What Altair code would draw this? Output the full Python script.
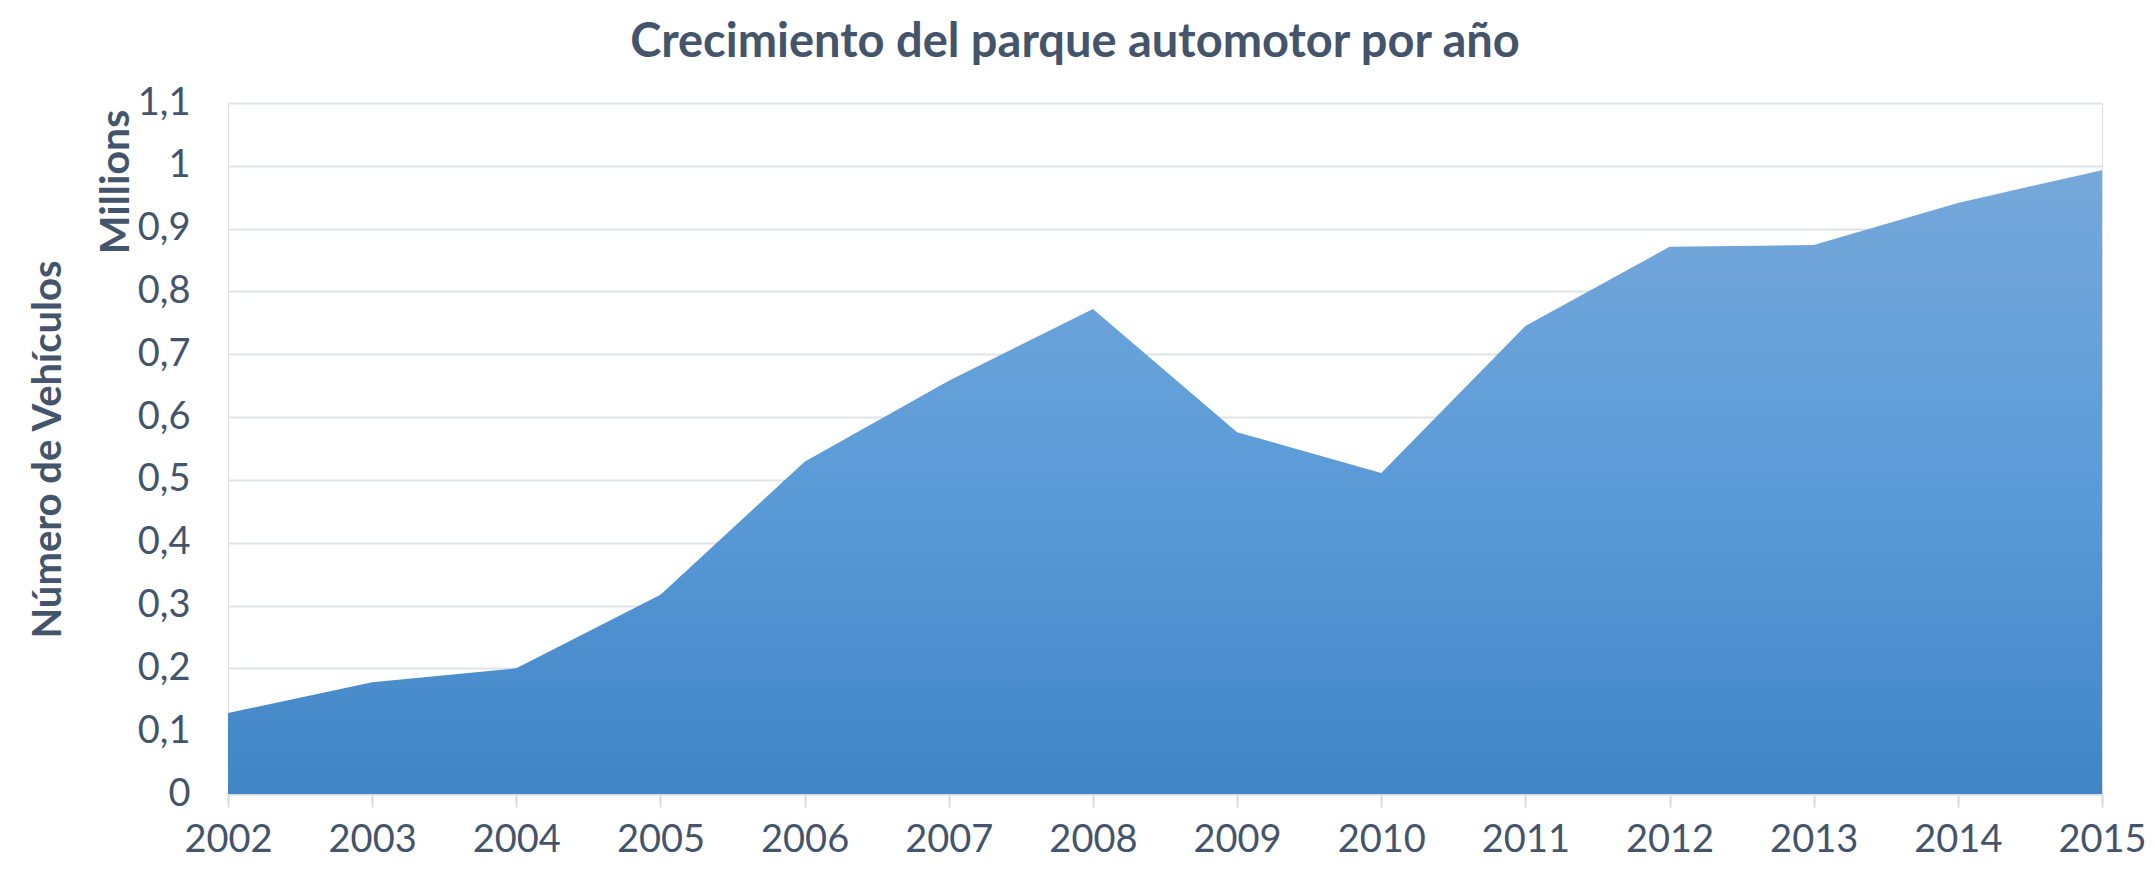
import altair as alt
import pandas as pd

years = [2002, 2003, 2004, 2005, 2006, 2007, 2008, 2009, 2010, 2011, 2012, 2013, 2014, 2015]
vehicles_millions = [0.129, 0.178, 0.200, 0.317, 0.529, 0.658, 0.772, 0.576, 0.511, 0.745, 0.871, 0.874, 0.941, 0.993]
y_ticks = [0, 0.1, 0.2, 0.3, 0.4, 0.5, 0.6, 0.7, 0.8, 0.9, 1.0, 1.1]

title_text = "Crecimiento del parque automotor por año"
y_title = "Número de Vehículos"
unit_label = "Millions"

df = pd.DataFrame({"year": years, "value": vehicles_millions})

FONT = "Lato"
TXT = "#44546a"

area = alt.Chart(df).mark_area(
    color=alt.Gradient(
        gradient="linear",
        stops=[
            alt.GradientStop(color="#4185c6", offset=0),
            alt.GradientStop(color="#5b9bd8", offset=0.5),
            alt.GradientStop(color="#76a8da", offset=1),
        ],
        x1=1, x2=1, y1=1, y2=0,
    ),
    opacity=1,
).encode(
    x=alt.X(
        "year:Q",
        scale=alt.Scale(domain=[2002, 2015], nice=False, zero=False),
        axis=alt.Axis(
            values=years,
            format="d",
            title=None,
            grid=False,
            domain=True,
            domainColor="#d9d9d9",
            domainWidth=2,
            ticks=True,
            tickColor="#d9d9d9",
            tickWidth=2,
            tickSize=13,
            labelPadding=14,
            labelFont=FONT,
            labelFontSize=38,
            labelColor=TXT,
            labelFlush=False,
        ),
    ),
    y=alt.Y(
        "value:Q",
        scale=alt.Scale(domain=[0, 1.1], nice=False),
        axis=alt.Axis(
            values=y_ticks,
            labelExpr="replace(format(datum.value, '~g'), '.', ',')",
            title=y_title,
            titleFont=FONT,
            titleFontSize=40,
            titleFontWeight="bold",
            titleColor=TXT,
            titleAngle=270,
            titleAlign="center",
            titleBaseline="middle",
            titleX=-180,
            titleY=346,
            grid=True,
            gridColor="#dfe3e8",
            gridWidth=2,
            domain=False,
            ticks=False,
            labelPadding=38,
            labelFont=FONT,
            labelFontSize=38,
            labelColor=TXT,
        ),
    ),
)

unit = alt.Chart(pd.DataFrame({"t": [unit_label]})).mark_text(
    angle=270,
    align="center",
    baseline="middle",
    font=FONT,
    fontSize=41,
    fontWeight="bold",
    color=TXT,
).encode(
    text="t:N",
    x=alt.value(-111),
    y=alt.value(79),
)

title = alt.Chart(pd.DataFrame({"t": [title_text]})).mark_text(
    align="center",
    baseline="alphabetic",
    font=FONT,
    fontSize=47,
    fontWeight="bold",
    color=TXT,
).encode(
    text="t:N",
    x=alt.value(847),
    y=alt.value(-46),
)

chart = alt.layer(area, unit, title).properties(
    width=1874,
    height=691,
    autosize=alt.AutoSizeParams(type="none"),
    padding={"left": 220, "top": 95, "right": 45, "bottom": 70},
).configure_view(stroke=None).configure(background="white")

chart.save("out.html", embed_options={"renderer": "svg", "actions": False})
